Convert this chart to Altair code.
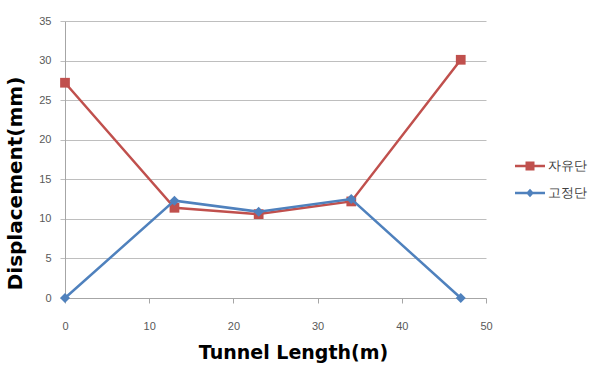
import altair as alt
import pandas as pd

# Tunnel displacement at the free end (자유단) and the fixed end (고정단)
length_m = [0, 13, 23, 34, 47]
free_end = [27.2, 11.4, 10.6, 12.2, 30.1]
fixed_end = [0.0, 12.3, 10.9, 12.5, 0.0]
series_names = ["자유단", "고정단"]
series_colors = ["#C0504D", "#4F81BD"]
x_ticks = [0, 10, 20, 30, 40, 50]
y_ticks = [0, 5, 10, 15, 20, 25, 30, 35]

rows = []
for i, x in enumerate(length_m):
    rows.append({"length": x, "disp": free_end[i], "series": series_names[0]})
for i, x in enumerate(length_m):
    rows.append({"length": x, "disp": fixed_end[i], "series": series_names[1]})
df = pd.DataFrame(rows)

FONT = "DejaVu Sans"
LABEL_FONT = "Liberation Sans"

color_scale = alt.Scale(domain=series_names, range=series_colors)

x_enc = alt.X(
    "length:Q",
    scale=alt.Scale(domain=[0, 50], nice=False),
    axis=alt.Axis(
        values=x_ticks,
        title="Tunnel Length(m)",
        grid=False,
        tickSize=5,
        tickColor="#A6A6A6",
        domainColor="#A6A6A6",
        labelFlush=False,
        labelPadding=17,
        labelFont=LABEL_FONT,
        labelFontSize=11,
        labelColor="#595959",
        titleFont=FONT,
        titleFontSize=19,
        titleFontWeight="bold",
        titleColor="#000000",
        titlePadding=12,
        titleX=228,
    ),
)
y_enc = alt.Y(
    "disp:Q",
    scale=alt.Scale(domain=[0, 35], nice=False),
    axis=alt.Axis(
        values=y_ticks,
        title="Displacement(mm)",
        grid=True,
        gridColor="#BEBEBE",
        gridWidth=1,
        tickSize=5,
        tickColor="#BEBEBE",
        domainColor="#A6A6A6",
        labelPadding=9,
        labelFont=LABEL_FONT,
        labelFontSize=11,
        labelColor="#595959",
        titleFont=FONT,
        titleFontSize=20,
        titleFontWeight="bold",
        titleColor="#000000",
        titlePadding=13,
        titleY=162,
    ),
)

color_nolegend = alt.Color("series:N", scale=color_scale, legend=None)


def series_layer(name, shape, size):
    sub = alt.Chart(df).transform_filter(alt.datum.series == name)
    line = sub.mark_line(strokeWidth=2.5).encode(x=x_enc, y=y_enc, color=color_nolegend)
    pts = sub.mark_point(shape=shape, filled=True, size=size, opacity=1).encode(
        x=x_enc, y=y_enc, color=color_nolegend
    )
    return line + pts


# Legend symbols: a short line with the series marker in the middle
line_sq = "M-1,-0.09H1V0.09H-1Z M-0.3,-0.3H0.3V0.3H-0.3Z"
line_dm = "M-1,-0.08H1V0.08H-1Z M0,-0.28L0.26,0L0,0.28L-0.26,0Z"

legend_props = dict(
    title=None,
    orient="none",
    legendX=450,
    legendY=130,
    symbolSize=900,
    symbolStrokeWidth=0,
    symbolOpacity=1,
    labelFont=FONT,
    labelFontSize=13,
    labelColor="#404040",
    labelOffset=3,
    rowPadding=5,
)

# zero-size points: they only carry the legend
legend_layer = (
    alt.Chart(df)
    .mark_point(filled=True, size=0)
    .encode(
        x=x_enc,
        y=y_enc,
        color=alt.Color("series:N", scale=color_scale, legend=alt.Legend(**legend_props)),
        shape=alt.Shape(
            "series:N",
            scale=alt.Scale(domain=series_names, range=[line_sq, line_dm]),
            legend=alt.Legend(**legend_props),
        ),
    )
)

chart = (
    alt.layer(
        legend_layer,
        series_layer(series_names[0], "square", 95),
        series_layer(series_names[1], "diamond", 100),
    )
    .properties(
        width=421,
        height=277,
        autosize=alt.AutoSizeParams(type="none"),
        padding={"left": 65, "top": 21, "right": 106, "bottom": 70},
        background="#FFFFFF",
    )
    .configure_view(stroke=None)
)

chart.save("out.html", embed_options={"renderer": "svg", "actions": False})
